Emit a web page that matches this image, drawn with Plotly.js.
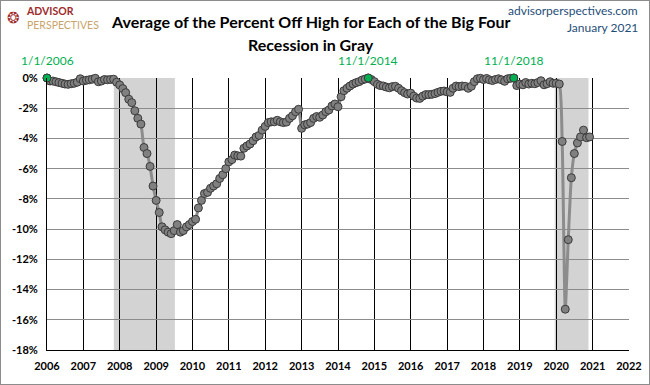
<!DOCTYPE html>
<html>
<head>
<meta charset="utf-8">
<script src="https://cdn.plot.ly/plotly-3.0.1.min.js"></script>
<style>
  html, body { margin: 0; padding: 0; background: #fff; }
  #chart { width: 648px; height: 383px; border: 1px solid #8c8c8c; }
</style>
</head>
<body>
<div id="chart"></div>
<script>
// ---- Data (monthly, Jan 2006 - Dec 2020), percent off high ----
const startYear = 2006;
const pct2006 = [0, -0.2, -0.2, -0.25, -0.3, -0.35, -0.4, -0.42, -0.38, -0.35, -0.28, -0.05];
const pct2007 = [-0.2, -0.15, -0.12, -0.08, -0.02, -0.25, -0.2, -0.1, -0.12, -0.1, -0.08, -0.28];
const pct2008 = [-0.46, -0.7, -0.97, -1.4, -1.63, -2.17, -2.67, -3.05, -4.6, -5.0, -5.85, -7.15];
const pct2009 = [-8.1, -8.9, -9.85, -10.05, -10.2, -10.3, -10.1, -9.7, -10.2, -10.1, -9.85, -9.7];
const pct2010 = [-9.5, -9.35, -8.6, -8.1, -7.65, -7.57, -7.3, -7.15, -7.0, -6.65, -6.4, -6.0];
const pct2011 = [-5.55, -5.4, -5.1, -5.15, -5.17, -4.65, -4.5, -4.37, -4.15, -3.9, -3.8, -3.45];
const pct2012 = [-3.2, -2.95, -2.9, -2.9, -2.8, -2.9, -2.95, -2.92, -2.67, -2.5, -2.23, -2.07];
const pct2013 = [-3.33, -3.1, -3.05, -2.95, -2.67, -2.55, -2.6, -2.45, -2.23, -2.12, -1.85, -1.72];
const pct2014 = [-1.9, -1.24, -0.84, -0.68, -0.53, -0.4, -0.31, -0.24, -0.13, -0.07, 0, -0.1];
const pct2015 = [-0.24, -0.42, -0.5, -0.53, -0.6, -0.65, -0.57, -0.55, -0.68, -0.84, -0.97, -1.06];
const pct2016 = [-1.0, -1.2, -1.33, -1.35, -1.2, -1.1, -1.1, -1.08, -1.03, -0.95, -0.88, -0.86];
const pct2017 = [-0.92, -0.95, -0.68, -0.53, -0.57, -0.53, -0.55, -0.68, -0.55, -0.24, -0.05, -0.02];
const pct2018 = [-0.1, -0.03, -0.12, -0.17, -0.1, -0.05, -0.12, -0.22, -0.05, -0.02, 0, -0.5];
const pct2019 = [-0.4, -0.45, -0.3, -0.4, -0.35, -0.38, -0.3, -0.18, -0.45, -0.38, -0.25, -0.35];
const pct2020 = [-0.35, -0.4, -4.2, -15.3, -10.7, -6.6, -5.0, -4.3, -3.9, -3.45, -3.95, -3.9];

const highlightDates  = ['2006-01-01', '2014-11-01', '2018-11-01'];
const highlightLabels = ['1/1/2006', '11/1/2014', '11/1/2018'];

const recessionStart = ['2007-11-03', '2019-12-17'];
const recessionEnd   = ['2009-07-08', '2020-11-20'];

const yTickVals = [0, -2, -4, -6, -8, -10, -12, -14, -16, -18];
const yTickText = ['0%', '-2%', '-4%', '-6%', '-8%', '-10%', '-12%', '-14%', '-16%', '-18%'];

const titleLine1 = 'Average of the Percent Off High for Each of the Big Four';
const titleLine2 = 'Recession in Gray';

// ---- Build series ----
const values = [].concat(pct2006, pct2007, pct2008, pct2009, pct2010, pct2011, pct2012,
  pct2013, pct2014, pct2015, pct2016, pct2017, pct2018, pct2019, pct2020);
const dates = values.map((v, i) => {
  const y = startYear + Math.floor(i / 12);
  const m = (i % 12) + 1;
  return y + '-' + String(m).padStart(2, '0') + '-01';
});
const hlValues = highlightDates.map(d => values[dates.indexOf(d)]);

const mainTrace = {
  x: dates, y: values, type: 'scatter', mode: 'lines+markers',
  line: { color: '#8c8c8c', width: 3, shape: 'spline', smoothing: 0.6 },
  marker: { size: 8, color: '#808080', line: { color: '#3a3a3a', width: 1 } },
  cliponaxis: false, hoverinfo: 'x+y'
};
const hlTrace = {
  x: highlightDates, y: hlValues, type: 'scatter', mode: 'markers',
  marker: { size: 8, color: '#00B050', line: { color: '#3a3a3a', width: 1 } },
  cliponaxis: false
};

const shapes = recessionStart.map((s, i) => ({
  type: 'rect', xref: 'x', yref: 'paper', x0: s, x1: recessionEnd[i], y0: 0, y1: 1,
  fillcolor: '#d3d3d3', line: { width: 0 }, layer: 'below'
}));

const annotations = highlightDates.map((d, i) => ({
  x: d, y: hlValues[i], xref: 'x', yref: 'y', text: highlightLabels[i],
  showarrow: false, yshift: 18, font: { family: 'Lato', size: 12, color: '#00B050' }
}));
annotations.push(
  { xref: 'paper', yref: 'paper', x: 0.4536, y: 1.206, xanchor: 'center', yanchor: 'middle',
    text: titleLine1, showarrow: false,
    font: { family: 'Lato', size: 16, color: '#000', weight: 700 } },
  { xref: 'paper', yref: 'paper', x: 0.4536, y: 1.125, xanchor: 'center', yanchor: 'middle',
    text: titleLine2, showarrow: false,
    font: { family: 'Lato', size: 16, color: '#000', weight: 700 } },
  { xref: 'paper', yref: 'paper', x: 1.019, y: 1.25, xanchor: 'right', yanchor: 'middle',
    text: 'advisorperspectives.com', showarrow: false,
    font: { family: 'Lato', size: 12, color: '#1F4E79' } },
  { xref: 'paper', yref: 'paper', x: 1.019, y: 1.184, xanchor: 'right', yanchor: 'middle',
    text: 'January 2021', showarrow: false,
    font: { family: 'Lato', size: 12, color: '#1F4E79' } },
  { xref: 'paper', yref: 'paper', x: -0.0395, y: 1.222, xanchor: 'left', yanchor: 'middle',
    align: 'left', showarrow: false,
    text: '<b><span style="color:#9E2A2B">ADVISOR</span></b><br><span style="color:#C9A46A">PERSPECTIVES</span>',
    font: { family: 'Lato', size: 10.5, color: '#9E2A2B' } },
  { xref: 'paper', yref: 'paper', x: -0.058, y: 1.222, xanchor: 'center', yanchor: 'middle',
    text: '\u2742', showarrow: false,
    font: { family: 'DejaVu Sans', size: 15, color: '#9E2A2B' } }
);

const layout = {
  width: 648, height: 383,
  margin: { l: 46, r: 20, t: 77, b: 34 },
  paper_bgcolor: '#ffffff', plot_bgcolor: '#ffffff',
  showlegend: false,
  xaxis: {
    type: 'date', range: ['2006-01-01', '2022-01-01'],
    tick0: '2006-01-01', dtick: 'M12', tickformat: '%Y',
    showgrid: true, gridcolor: '#000000', gridwidth: 1,
    showline: true, linecolor: '#000000', linewidth: 1,
    ticks: '', ticklabelstandoff: 6, zeroline: false,
    tickfont: { family: 'Lato', size: 11, color: '#000', weight: 700 }
  },
  yaxis: {
    range: [-18, 0], tickvals: yTickVals, ticktext: yTickText,
    showgrid: true, gridcolor: '#8c8c8c', gridwidth: 1,
    showline: true, linecolor: '#000000', linewidth: 1,
    ticks: '', ticklabelstandoff: 6, zeroline: false,
    tickfont: { family: 'Lato', size: 11, color: '#000', weight: 700 }
  },
  shapes: shapes,
  annotations: annotations
};

Plotly.newPlot('chart', [mainTrace, hlTrace], layout, { displayModeBar: false, staticPlot: true });
</script>
</body>
</html>
